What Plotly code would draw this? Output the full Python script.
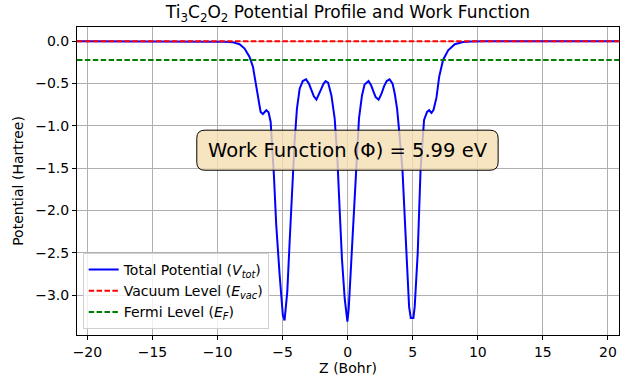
import plotly.graph_objects as go

# Data
z_bohr = [-20.8, -12.0, -10.0, -9.4, -8.85, -8.31, -7.92, -7.54, -7.28, -7.02, -6.82, -6.69, -6.52,
          -6.25, -6.08, -5.92, -5.67, -5.49, -5.23, -4.98, -4.85, -4.64, -4.46, -4.28, -4.08,
          -3.9, -3.69, -3.45, -3.2, -2.98, -2.79, -2.6, -2.4, -2.2, -2.02, -1.85, -1.69, -1.5,
          -1.25, -1.0, -0.79, -0.62, -0.44, -0.23, -0.08, -0.02, 0.08, 0.28, 0.49, 0.67, 0.87,
          1.1, 1.3, 1.6, 1.8, 2.0, 2.15, 2.38, 2.6, 2.8, 3.0, 3.22, 3.45, 3.62, 3.8, 3.95, 4.21,
          4.52, 4.72, 4.85, 5.05, 5.15, 5.38, 5.6, 5.87, 6.1, 6.26, 6.44, 6.6, 6.83, 7.03, 7.33,
          7.72, 8.23, 8.87, 9.5, 10.5, 20.8]
v_tot = [0.0, 0.0, -0.001, -0.004, -0.01, -0.035, -0.086, -0.185, -0.30, -0.54, -0.74, -0.835, -0.86,
         -0.815, -0.84, -0.95, -1.58, -2.17, -2.76, -3.24, -3.30, -2.96, -2.37, -1.78, -1.19,
         -0.80, -0.56, -0.47, -0.45, -0.50, -0.57, -0.65, -0.69, -0.63, -0.56, -0.50, -0.47, -0.49,
         -0.64, -0.91, -1.39, -1.98, -2.57, -3.04, -3.30, -3.315, -3.16, -2.57, -1.98, -1.39, -0.91,
         -0.64, -0.51, -0.47, -0.52, -0.60, -0.66, -0.69, -0.62, -0.53, -0.47, -0.45, -0.50, -0.62,
         -0.80, -1.05, -1.52, -2.51, -3.14, -3.27, -3.27, -3.14, -2.51, -1.52, -0.93, -0.835, -0.815,
         -0.847, -0.81, -0.66, -0.42, -0.22, -0.106, -0.035, -0.008, -0.002, 0.0, 0.0]
e_vac = 0.0
e_fermi = -0.2201
work_function_ev = 5.99

x_range = [-20.8, 20.85]
y_range = [-3.472, 0.169]

font_family = "DejaVu Sans, Liberation Sans, sans-serif"
dash = "5.5px,2.4px"

fig = go.Figure()
fig.add_trace(go.Scatter(x=z_bohr, y=v_tot, mode="lines",
                         line=dict(color="blue", width=2),
                         name="Total Potential (<i>V</i><sub><i>tot</i></sub>)"))
fig.add_trace(go.Scatter(x=x_range, y=[e_vac, e_vac], mode="lines",
                         line=dict(color="red", width=2, dash=dash),
                         name="Vacuum Level (<i>E</i><sub><i>vac</i></sub>)"))
fig.add_trace(go.Scatter(x=x_range, y=[e_fermi, e_fermi], mode="lines",
                         line=dict(color="green", width=2, dash=dash),
                         name="Fermi Level (<i>E</i><sub><i>F</i></sub>)"))

# rounded box for work function text
x0, x1, y0, y1 = 0.221, 0.777, 0.535, 0.665
rx, ry = 0.015, 0.026
path = (f"M {x0+rx},{y0} L {x1-rx},{y0} Q {x1},{y0} {x1},{y0+ry} L {x1},{y1-ry} "
        f"Q {x1},{y1} {x1-rx},{y1} L {x0+rx},{y1} Q {x0},{y1} {x0},{y1-ry} "
        f"L {x0},{y0+ry} Q {x0},{y0} {x0+rx},{y0} Z")
fig.add_shape(type="path", path=path, xref="paper", yref="paper",
              fillcolor="rgba(245,222,179,0.8)", line=dict(color="black", width=1),
              layer="above")
fig.add_annotation(x=0.5, y=0.6, xref="paper", yref="paper",
                   text=f"Work Function (Φ) = {work_function_ev:.2f} eV",
                   showarrow=False, font=dict(size=19.5, color="black", family=font_family),
                   xanchor="center", yanchor="middle")

axis_common = dict(showline=True, mirror=True, linecolor="black", linewidth=1,
                   ticks="outside", ticklen=4, tickcolor="black", automargin=False,
                   showgrid=True, gridcolor="#b0b0b0", gridwidth=1, zeroline=False,
                   tickfont=dict(size=14, color="black", family=font_family))

fig.update_layout(
    width=630, height=377,
    margin=dict(l=77, r=11, t=27, b=42),
    paper_bgcolor="white", plot_bgcolor="white",
    title=dict(text="Ti<sub>3</sub>C<sub>2</sub>O<sub>2</sub> Potential Profile and Work Function",
               x=(77 + 619) / 2 / 630, xanchor="center", y=0.983, yanchor="top",
               font=dict(size=17, color="black", family=font_family)),
    xaxis=dict(range=x_range, dtick=5, tick0=0,
               title=dict(text="Z (Bohr)", font=dict(size=14, color="black", family=font_family),
                          standoff=2),
               **axis_common),
    yaxis=dict(range=y_range, dtick=0.5, tick0=0, tickformat=".1f",
               title=dict(text="Potential (Hartree)", font=dict(size=14, color="black", family=font_family),
                          standoff=8),
               **axis_common),
    legend=dict(x=0.0105, y=0.0195, xanchor="left", yanchor="bottom",
                bgcolor="rgba(255,255,255,0.8)", bordercolor="#d0d0d0", borderwidth=1,
                font=dict(size=14, color="black", family=font_family),
                itemwidth=30, tracegroupgap=0),
    showlegend=True,
)

fig.write_html("out.html", config={"displayModeBar": False},
               post_script="document.body.style.margin='0';document.body.style.padding='0';")
